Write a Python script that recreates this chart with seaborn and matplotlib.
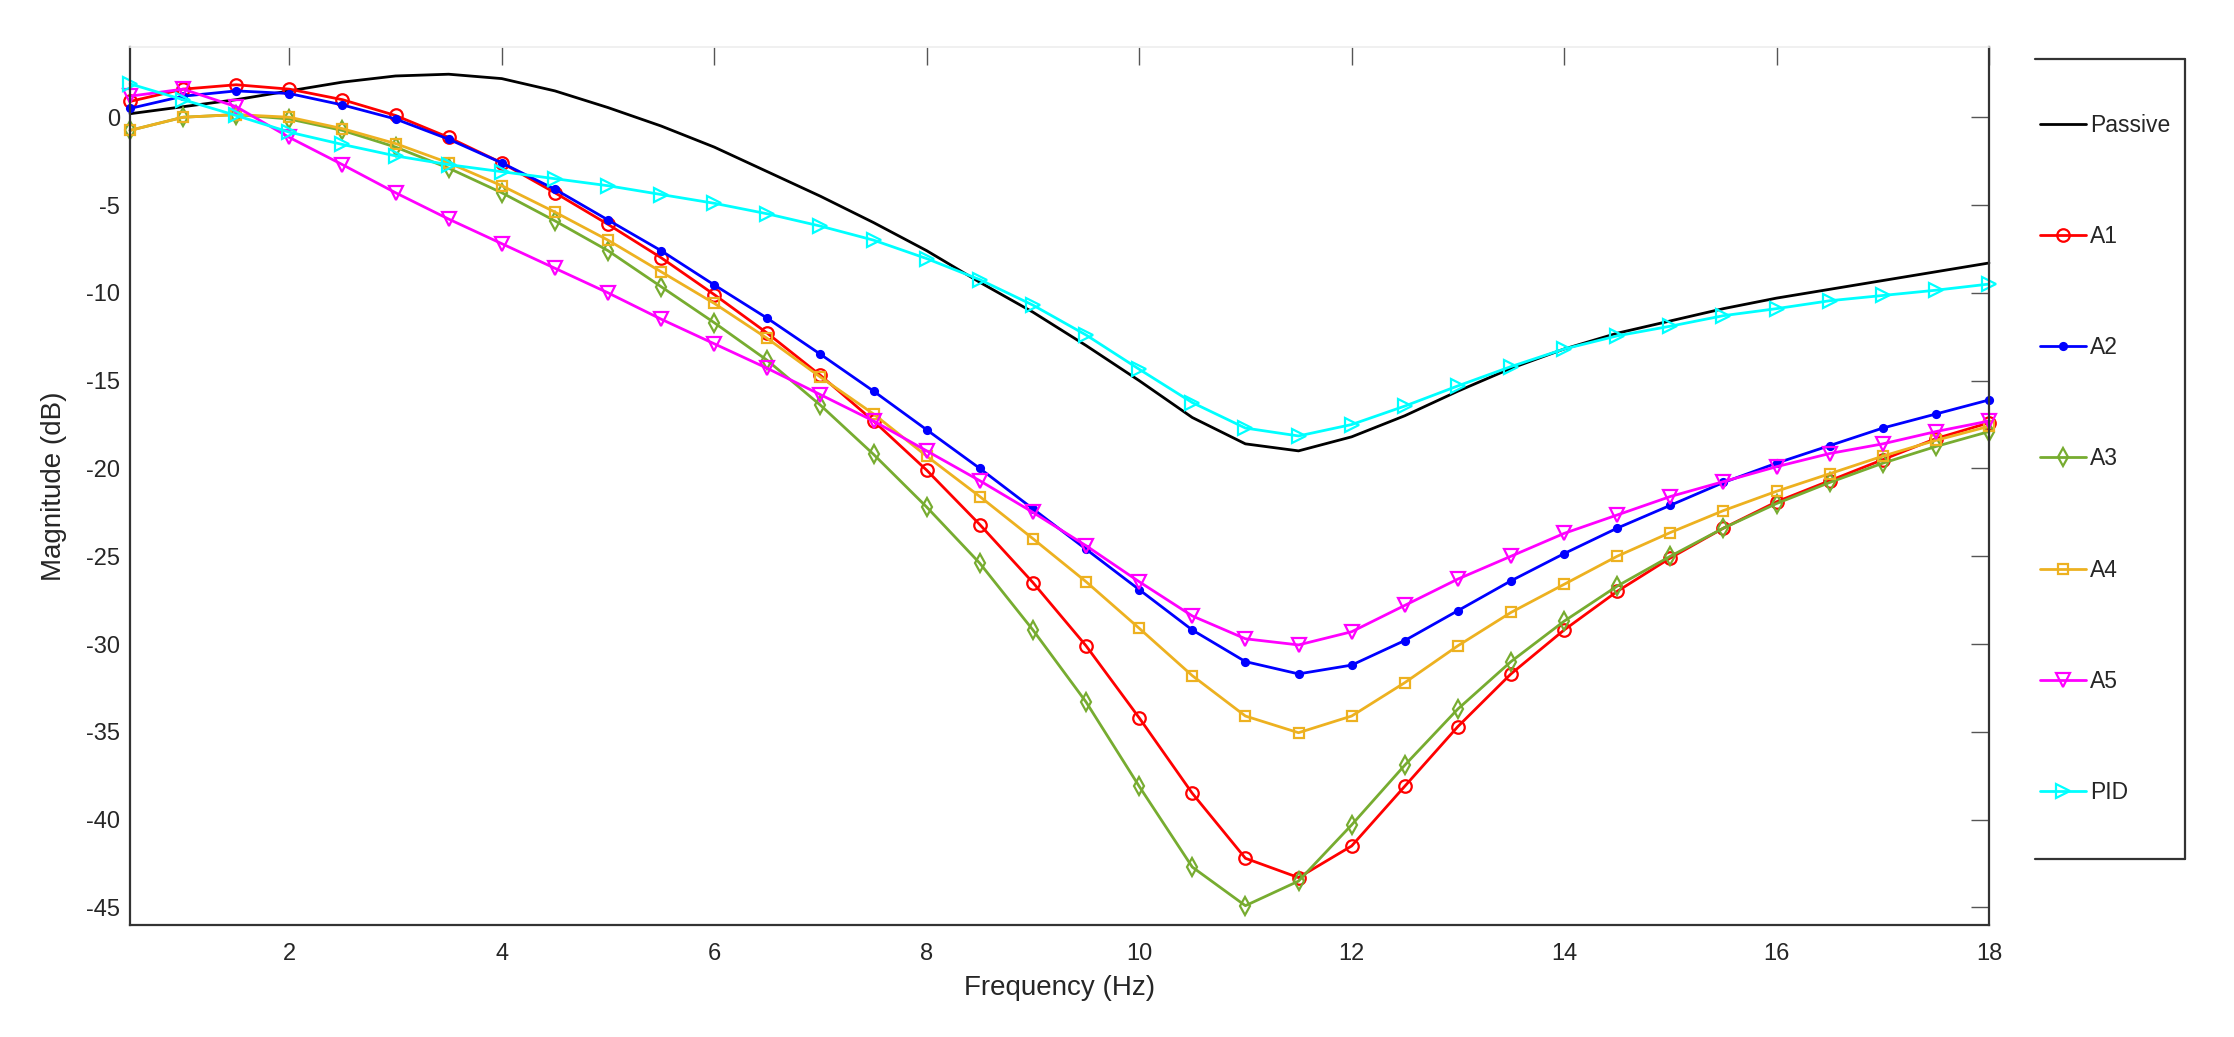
import matplotlib
matplotlib.use('Agg')
import matplotlib.pyplot as plt
from matplotlib.lines import Line2D
import seaborn as sns

##Frequency points (Hz), one every 0.5 Hz
freq = [0.5, 1.0, 1.5, 2.0, 2.5, 3.0, 3.5, 4.0, 4.5, 5.0, 5.5, 6.0,
        6.5, 7.0, 7.5, 8.0, 8.5, 9.0, 9.5, 10.0, 10.5, 11.0, 11.5, 12.0,
        12.5, 13.0, 13.5, 14.0, 14.5, 15.0, 15.5, 16.0, 16.5, 17.0, 17.5, 18.0]

##Magnitude (dB)
passive = [0.2, 0.6, 1.0, 1.5, 2.0, 2.35, 2.45, 2.2, 1.5, 0.55, -0.5, -1.7,
           -3.1, -4.5, -6.0, -7.6, -9.4, -11.1, -13.0, -15.0, -17.1, -18.6, -19.0, -18.2,
           -17.0, -15.6, -14.3, -13.2, -12.3, -11.6, -10.9, -10.3, -9.8, -9.3, -8.8, -8.3]
a1 = [0.9, 1.6, 1.85, 1.6, 1.0, 0.1, -1.15, -2.6, -4.3, -6.1, -8.0, -10.1,
      -12.3, -14.7, -17.3, -20.1, -23.2, -26.5, -30.1, -34.2, -38.5, -42.2, -43.3, -41.5,
      -38.1, -34.7, -31.7, -29.2, -27.0, -25.1, -23.4, -21.9, -20.7, -19.5, -18.3, -17.4]
a2 = [0.5, 1.2, 1.5, 1.35, 0.7, -0.1, -1.25, -2.6, -4.1, -5.85, -7.6, -9.55,
      -11.45, -13.5, -15.6, -17.8, -20.0, -22.3, -24.6, -26.9, -29.2, -31.0, -31.7, -31.2,
      -29.8, -28.1, -26.4, -24.85, -23.4, -22.1, -20.8, -19.7, -18.7, -17.7, -16.9, -16.1]
a3 = [-0.75, 0.0, 0.15, -0.1, -0.75, -1.7, -2.9, -4.3, -5.9, -7.6, -9.65, -11.7,
      -13.85, -16.4, -19.2, -22.2, -25.4, -29.2, -33.3, -38.1, -42.7, -44.9, -43.5, -40.3,
      -36.9, -33.7, -31.0, -28.7, -26.7, -25.0, -23.4, -22.0, -20.8, -19.7, -18.75, -17.9]
a4 = [-0.75, 0.0, 0.15, 0.0, -0.65, -1.5, -2.6, -3.9, -5.4, -7.0, -8.8, -10.6,
      -12.6, -14.8, -16.9, -19.3, -21.6, -24.0, -26.45, -29.1, -31.8, -34.1, -35.05, -34.1,
      -32.2, -30.1, -28.2, -26.6, -25.0, -23.65, -22.4, -21.3, -20.3, -19.3, -18.4, -17.6]
a5 = [1.2, 1.6, 0.6, -1.15, -2.7, -4.3, -5.8, -7.2, -8.6, -10.0, -11.5, -12.9,
      -14.3, -15.8, -17.3, -19.0, -20.7, -22.5, -24.4, -26.45, -28.4, -29.7, -30.05, -29.3,
      -27.8, -26.3, -25.0, -23.7, -22.65, -21.6, -20.75, -19.9, -19.15, -18.6, -17.9, -17.3]
pid = [1.9, 1.0, 0.1, -0.85, -1.55, -2.2, -2.7, -3.1, -3.5, -3.9, -4.4, -4.9,
       -5.5, -6.2, -7.0, -8.05, -9.25, -10.7, -12.4, -14.35, -16.25, -17.7, -18.15, -17.5,
       -16.45, -15.3, -14.2, -13.2, -12.45, -11.9, -11.3, -10.9, -10.45, -10.15, -9.85, -9.5]

names = ['Passive', 'A1', 'A2', 'A3', 'A4', 'A5', 'PID']
series = [passive, a1, a2, a3, a4, a5, pid]
colors = ['black', '#ff0000', '#0000ff', '#77ac30', '#edb120', '#ff00ff', '#00ffff']
markers = [None, 'o', '.', 'd', 's', 'v', '>']
msizes = [0, 9, 10, 9, 7.5, 10, 10]

sns.set_style('white')
plt.rcParams['font.family'] = ['Liberation Sans', 'DejaVu Sans']
plt.rcParams['axes.unicode_minus'] = False

fig = plt.figure(figsize=(22.34, 10.37), dpi=100)
ax = fig.add_axes([130/2234, 112/1037, 1859/2234, 878/1037])

##one seaborn line per series, open markers like the MATLAB original
for name, vals, c, m, ms in zip(names, series, colors, markers, msizes):
    kw = dict(linewidth=2.0, clip_on=False)
    if m is not None:
        kw.update(marker=m, markersize=ms, markeredgecolor=c, markeredgewidth=1.6,
                  markerfacecolor=(c if m == '.' else 'none'))
    sns.lineplot(x=freq, y=vals, ax=ax, color=c, label=name, legend=False, **kw)

ax.set_xlim(0.5, 18)
ax.set_ylim(-46, 4)
ax.set_xticks([2, 4, 6, 8, 10, 12, 14, 16, 18])
ax.set_yticks([-45, -40, -35, -30, -25, -20, -15, -10, -5, 0])

for side in ['left', 'bottom', 'right']:
    ax.spines[side].set_color('#333333')
    ax.spines[side].set_linewidth(1.6)
ax.spines['top'].set_color('#eeeeee')
ax.spines['top'].set_linewidth(1.2)

ax.tick_params(direction='in', length=13, width=1.0, color='#555555',
               top=True, right=True, labelsize=17, labelcolor='#262626')
ax.tick_params(axis='x', pad=13)
ax.tick_params(axis='y', pad=7)

ax.set_xlabel('Frequency (Hz)', fontsize=20, color='#262626', labelpad=7)
ax.set_ylabel('Magnitude (dB)', fontsize=20, color='#262626', labelpad=14)

##legend outside the axes on the right, with a box drawn on three sides
handles, labels = ax.get_legend_handles_labels()
fig.legend(handles, labels, loc='center left', bbox_to_anchor=(2040/2234, 0.5574),
           frameon=False, borderpad=0, borderaxespad=0, handlelength=2.0,
           handletextpad=0.2, labelspacing=3.85, fontsize=16.5, labelcolor='#262626')

x0, x1 = 2035/2234, 2185/2234
y0, y1 = 1 - 859/1037, 1 - 59/1037
for xs, ys in [([x0, x1], [y1, y1]), ([x1, x1], [y0, y1]), ([x0, x1], [y0, y0])]:
    fig.add_artist(Line2D(xs, ys, transform=fig.transFigure, color='#333333', linewidth=1.6))

fig.savefig('out.png', dpi=100, facecolor='white')
